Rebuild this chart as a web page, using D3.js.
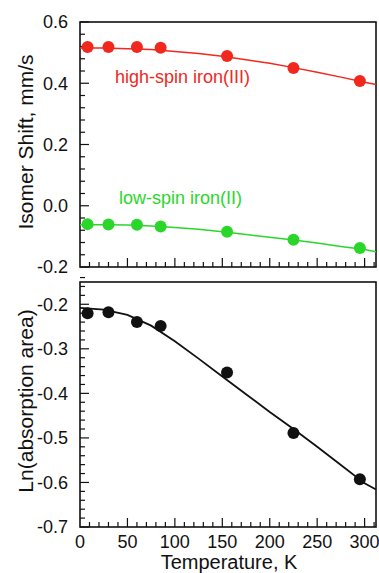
<!DOCTYPE html>
<html>
<head>
<meta charset="utf-8">
<script src="https://cdn.jsdelivr.net/npm/d3@7"></script>
<style>
  body { margin: 0; background: #fff; }
  svg { font-family: "Liberation Sans", Arial, sans-serif; }
</style>
</head>
<body>
<div id="chart"></div>
<script>
// measured temperatures (K)
var temps = [8, 30, 60, 85, 155, 225, 295];

// isomer shifts, mm/s
var highSpin = [0.518, 0.518, 0.518, 0.516, 0.489, 0.450, 0.407];
var lowSpin = [-0.060, -0.061, -0.062, -0.068, -0.085, -0.111, -0.138];

// Ln(absorption area)
var lnArea = [-0.220, -0.218, -0.240, -0.249, -0.353, -0.489, -0.593];

// fitted curves
var fitT = [0, 25, 50, 75, 100, 125, 150, 175, 200, 225, 250, 275, 300, 312];
var highFit = [0.515, 0.515, 0.513, 0.510, 0.504, 0.497, 0.488, 0.477, 0.465, 0.451, 0.436, 0.420, 0.403, 0.396];
var lowFit = [-0.062, -0.062, -0.063, -0.066, -0.071, -0.077, -0.085, -0.094, -0.103, -0.112, -0.122, -0.133, -0.143, -0.150];
var areaFit = [-0.208, -0.212, -0.224, -0.248, -0.283, -0.322, -0.362, -0.402, -0.442, -0.480, -0.520, -0.561, -0.602, -0.616];

var topTicks = [-0.2, 0.0, 0.2, 0.4, 0.6];
var botTicks = [-0.7, -0.6, -0.5, -0.4, -0.3, -0.2];
var xTicks = [0, 50, 100, 150, 200, 250, 300];

var red = "#f0281e", green = "#2bd62b";

var width = 379, height = 573;
var left = 80, right = 376;
var svg = d3.select("#chart").append("svg")
    .attr("width", width)
    .attr("height", height);

var x = d3.scaleLinear().domain([0, 312]).range([left, right]);
var yTop = d3.scaleLinear().domain([-0.2, 0.6]).range([267, 22]);
var yBot = d3.scaleLinear().domain([-0.7, -0.15]).range([527, 282]);

// plain hyphen for negatives, like the original
var fmt = v => d3.format(".1f")(v).replace("\u2212", "-");

function frame(y, ticks, minorStep) {
    var g = svg.append("g");
    var y0 = y.range()[0], y1 = y.range()[1];
    var d = y.domain();

    // x ticks, inward
    g.selectAll(".xminor")
        .data(d3.range(10, 312, 10))
        .join("line")
        .attr("x1", t => x(t)).attr("x2", t => x(t))
        .attr("y1", y0).attr("y2", t => y0 - (t % 50 == 0 ? 9 : 5))
        .attr("stroke", "#111").attr("stroke-width", 1.2);

    // y ticks, inward
    var minors = d3.range(Math.round(d[0] / minorStep), Math.round(d[1] / minorStep) + 1)
        .map(i => +(i * minorStep).toFixed(3));
    g.selectAll(".yminor")
        .data(minors)
        .join("line")
        .attr("x1", left).attr("x2", v => left + (ticks.some(t => Math.abs(t - v) < 1e-6) ? 9 : 5))
        .attr("y1", v => y(v)).attr("y2", v => y(v))
        .attr("stroke", "#111").attr("stroke-width", 1.2);

    g.append("rect")
        .attr("x", left).attr("y", y1)
        .attr("width", right - left).attr("height", y0 - y1)
        .attr("fill", "none").attr("stroke", "#111").attr("stroke-width", 1.6);

    g.selectAll(".ylab")
        .data(ticks)
        .join("text")
        .attr("x", 68)
        .attr("y", v => y(v))
        .attr("dy", "0.36em")
        .attr("text-anchor", "end")
        .attr("font-size", 18)
        .attr("fill", "#111")
        .text(fmt);
}

frame(yTop, topTicks, 0.04);
frame(yBot, botTicks, 0.02);

// x tick labels under the lower panel
svg.selectAll(".xlab")
    .data(xTicks)
    .join("text")
    .attr("x", t => x(t))
    .attr("y", 548)
    .attr("text-anchor", "middle")
    .attr("font-size", 18)
    .attr("fill", "#111")
    .text(t => t);

// axis titles
svg.append("text")
    .attr("transform", "translate(33," + 142 + ") rotate(-90)")
    .attr("text-anchor", "middle")
    .attr("font-size", 21)
    .attr("fill", "#111")
    .text("Isomer Shift, mm/s");

svg.append("text")
    .attr("transform", "translate(33," + 401 + ") rotate(-90)")
    .attr("text-anchor", "middle")
    .attr("font-size", 21)
    .attr("fill", "#111")
    .text("Ln(absorption area)");

svg.append("text")
    .attr("x", 229)
    .attr("y", 569)
    .attr("text-anchor", "middle")
    .attr("font-size", 20)
    .attr("fill", "#111")
    .text("Temperature, K");

// series
function series(y, fit, pts, color, lw) {
    var line = d3.line()
        .x((t, i) => x(t))
        .y((t, i) => y(fit[i]));
    svg.append("path")
        .datum(fitT)
        .attr("d", line)
        .attr("fill", "none")
        .attr("stroke", color)
        .attr("stroke-width", lw);

    svg.append("g")
        .selectAll("circle")
        .data(temps)
        .join("circle")
        .attr("cx", t => x(t))
        .attr("cy", (t, i) => y(pts[i]))
        .attr("r", 6)
        .attr("fill", color);
}

series(yTop, highFit, highSpin, red, 1.5);
series(yTop, lowFit, lowSpin, green, 1.5);
series(yBot, areaFit, lnArea, "#111", 1.8);

// labels inside the top panel
svg.append("text")
    .attr("x", 115).attr("y", 83)
    .attr("font-size", 18)
    .attr("fill", red)
    .text("high-spin iron(III)");

svg.append("text")
    .attr("x", 119).attr("y", 204)
    .attr("font-size", 18)
    .attr("fill", green)
    .text("low-spin iron(II)");
</script>
</body>
</html>
